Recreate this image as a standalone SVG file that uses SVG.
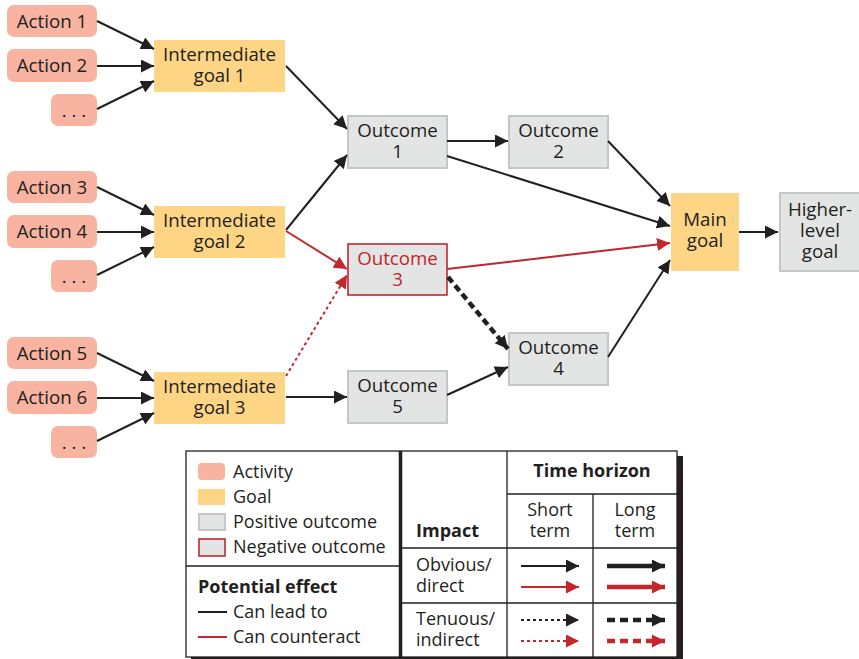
<svg xmlns="http://www.w3.org/2000/svg" width="859" height="659" viewBox="0 0 859 659">
  <style>
    text { font-family: "Open Sans", "Noto Sans", "Liberation Sans", sans-serif; font-size: 18px; fill: #231f20; }
    .n text { font-size: 18.7px; }
    .c { text-anchor: middle; }
    .b { font-weight: bold; }
    .act { fill: #f9b3a1; }
    .goal { fill: #fdd584; }
    .pos { fill: #e3e4e4; stroke: #c5c6c8; stroke-width: 2; }
    .neg { fill: #e3e4e4; stroke: #c1272d; stroke-width: 1.6; }
    .redt { fill: #c1272d; }
    .k { stroke: #231f20; stroke-width: 2; fill: none; }
    .r { stroke: #c1272d; stroke-width: 2; fill: none; }
    .kthick { stroke: #231f20; stroke-width: 4.5; fill: none; }
    .rthick { stroke: #c1272d; stroke-width: 4.5; fill: none; }
    .dot { stroke-dasharray: 3 3; }
    .dash { stroke-dasharray: 8 5; }
    .grid { stroke: #231f20; stroke-width: 1.3; fill: none; }
  </style>
  <defs>
    <marker id="ak" markerUnits="userSpaceOnUse" markerWidth="14" markerHeight="14" refX="13" refY="6.5" orient="auto">
      <path d="M0,0 L13,6.5 L0,13 z" fill="#231f20"/>
    </marker>
    <marker id="ar" markerUnits="userSpaceOnUse" markerWidth="14" markerHeight="14" refX="13" refY="6.5" orient="auto">
      <path d="M0,0 L13,6.5 L0,13 z" fill="#c1272d"/>
    </marker>
  </defs>

  <!-- activities -->
  <g id="action1" class="n"><rect class="act" x="7" y="5" width="90" height="32" rx="7"/><text class="c" x="52" y="28">Action 1</text></g>
  <g id="action2" class="n"><rect class="act" x="7" y="49" width="90" height="33" rx="7"/><text class="c" x="52" y="72">Action 2</text></g>
  <g id="more1" class="n"><rect class="act" x="51" y="94" width="46" height="32" rx="7"/><text class="c" x="74" y="117">. . .</text></g>
  <g id="action3" class="n"><rect class="act" x="7" y="171" width="90" height="32" rx="7"/><text class="c" x="52" y="194">Action 3</text></g>
  <g id="action4" class="n"><rect class="act" x="7" y="215" width="90" height="33" rx="7"/><text class="c" x="52" y="238">Action 4</text></g>
  <g id="more2" class="n"><rect class="act" x="51" y="260" width="46" height="32" rx="7"/><text class="c" x="74" y="283">. . .</text></g>
  <g id="action5" class="n"><rect class="act" x="7" y="337" width="90" height="32" rx="7"/><text class="c" x="52" y="360">Action 5</text></g>
  <g id="action6" class="n"><rect class="act" x="7" y="381" width="90" height="33" rx="7"/><text class="c" x="52" y="404">Action 6</text></g>
  <g id="more3" class="n"><rect class="act" x="51" y="426" width="46" height="32" rx="7"/><text class="c" x="74" y="449">. . .</text></g>

  <!-- intermediate goals -->
  <g id="goal1" class="n"><rect class="goal" x="154" y="40" width="131" height="52"/><text class="c" x="219.5" y="61">Intermediate</text><text class="c" x="219.5" y="82">goal 1</text></g>
  <g id="goal2" class="n"><rect class="goal" x="154" y="206" width="131" height="52"/><text class="c" x="219.5" y="227">Intermediate</text><text class="c" x="219.5" y="248">goal 2</text></g>
  <g id="goal3" class="n"><rect class="goal" x="154" y="372" width="131" height="52"/><text class="c" x="219.5" y="393">Intermediate</text><text class="c" x="219.5" y="414">goal 3</text></g>

  <!-- outcomes -->
  <g id="outcome1" class="n"><rect class="pos" x="348" y="116" width="99" height="52"/><text class="c" x="397.5" y="137">Outcome</text><text class="c" x="397.5" y="158">1</text></g>
  <g id="outcome2" class="n"><rect class="pos" x="509" y="116" width="99" height="52"/><text class="c" x="558.5" y="137">Outcome</text><text class="c" x="558.5" y="158">2</text></g>
  <g id="outcome3" class="n"><rect class="neg" x="348" y="244" width="99" height="51"/><text class="c redt" x="397.5" y="265">Outcome</text><text class="c redt" x="397.5" y="286">3</text></g>
  <g id="outcome4" class="n"><rect class="pos" x="509" y="333" width="99" height="52"/><text class="c" x="558.5" y="354">Outcome</text><text class="c" x="558.5" y="375">4</text></g>
  <g id="outcome5" class="n"><rect class="pos" x="348" y="371" width="99" height="52"/><text class="c" x="397.5" y="392">Outcome</text><text class="c" x="397.5" y="413">5</text></g>

  <!-- goals at the top of the chain -->
  <g id="main-goal" class="n"><rect class="goal" x="671" y="193" width="68" height="78"/><text class="c" x="705" y="226">Main</text><text class="c" x="705" y="247">goal</text></g>
  <g id="higher-goal" class="n"><rect class="pos" x="780" y="193" width="80" height="78"/><text class="c" x="820" y="216">Higher-</text><text class="c" x="820" y="237">level</text><text class="c" x="820" y="258">goal</text></g>

  <!-- connectors -->
  <g id="connectors">
    <line class="k" x1="97" y1="21" x2="154" y2="49" marker-end="url(#ak)"/>
    <line class="k" x1="97" y1="66" x2="154" y2="66" marker-end="url(#ak)"/>
    <line class="k" x1="97" y1="109" x2="154" y2="81" marker-end="url(#ak)"/>
    <line class="k" x1="97" y1="187" x2="154" y2="215" marker-end="url(#ak)"/>
    <line class="k" x1="97" y1="232" x2="154" y2="232" marker-end="url(#ak)"/>
    <line class="k" x1="97" y1="275" x2="154" y2="247" marker-end="url(#ak)"/>
    <line class="k" x1="97" y1="353" x2="154" y2="381" marker-end="url(#ak)"/>
    <line class="k" x1="97" y1="398" x2="154" y2="398" marker-end="url(#ak)"/>
    <line class="k" x1="97" y1="441" x2="154" y2="413" marker-end="url(#ak)"/>

    <line class="k" x1="286" y1="66" x2="347" y2="129" marker-end="url(#ak)"/>
    <line class="k" x1="286" y1="230" x2="347" y2="155" marker-end="url(#ak)"/>
    <line class="r" x1="286" y1="231" x2="347" y2="269" marker-end="url(#ar)"/>
    <line class="r dot" x1="286" y1="376" x2="347" y2="275" marker-end="url(#ar)"/>
    <line class="k" x1="286" y1="397" x2="347" y2="397" marker-end="url(#ak)"/>

    <line class="k" x1="447" y1="141" x2="508" y2="141" marker-end="url(#ak)"/>
    <line class="k" x1="447" y1="156" x2="670" y2="226" marker-end="url(#ak)"/>
    <line class="k" x1="608" y1="141" x2="670" y2="206" marker-end="url(#ak)"/>
    <line class="r" x1="447" y1="269" x2="670" y2="243" marker-end="url(#ar)"/>
    <line class="kthick" stroke-dasharray="7 4" x1="448" y1="277" x2="508" y2="349" marker-end="url(#ak)"/>
    <line class="k" x1="447" y1="395" x2="508" y2="367" marker-end="url(#ak)"/>
    <line class="k" x1="608" y1="357" x2="670" y2="260" marker-end="url(#ak)"/>
    <line class="k" x1="739" y1="232" x2="778" y2="232" marker-end="url(#ak)"/>
  </g>

  <!-- legend -->
  <g id="legend">
    <rect x="191" y="456" width="492" height="206" fill="#231f20"/>
    <rect x="186" y="451" width="491" height="206" fill="#ffffff" stroke="#231f20" stroke-width="1.3"/>
    <line x1="186" y1="566" x2="400" y2="566" class="grid"/>
    <line x1="400.5" y1="451" x2="400.5" y2="657" stroke="#231f20" stroke-width="3.5"/>

    <rect class="act" x="198" y="463" width="27" height="17" rx="4"/>
    <text x="233" y="478">Activity</text>
    <rect class="goal" x="198" y="489" width="27" height="16"/>
    <text x="233" y="503">Goal</text>
    <rect class="pos" x="199" y="514" width="26" height="16"/>
    <text x="233" y="528">Positive outcome</text>
    <rect class="neg" x="199" y="539" width="26" height="17"/>
    <text x="233" y="553">Negative outcome</text>

    <text class="b" x="198" y="593">Potential effect</text>
    <line class="k" x1="198" y1="612" x2="227" y2="612"/>
    <text x="233" y="618">Can lead to</text>
    <line class="r" x1="198" y1="637" x2="227" y2="637"/>
    <text x="233" y="643">Can counteract</text>

    <!-- impact / time horizon table -->
    <line x1="507" y1="494" x2="677" y2="494" class="grid"/>
    <line x1="402" y1="548" x2="677" y2="548" class="grid"/>
    <line x1="402" y1="603" x2="677" y2="603" class="grid"/>
    <line x1="507" y1="451" x2="507" y2="657" class="grid"/>
    <line x1="593" y1="494" x2="593" y2="657" class="grid"/>

    <text class="c b" x="592" y="477">Time horizon</text>
    <text class="c" x="550" y="516">Short</text>
    <text class="c" x="550" y="537">term</text>
    <text class="c" x="635" y="516">Long</text>
    <text class="c" x="635" y="537">term</text>
    <text class="b" x="416" y="537">Impact</text>
    <text x="416" y="571">Obvious/</text>
    <text x="416" y="592">direct</text>
    <text x="416" y="625">Tenuous/</text>
    <text x="416" y="646">indirect</text>

    <line class="k" x1="521" y1="566" x2="579" y2="566" marker-end="url(#ak)"/>
    <line class="r" x1="521" y1="587" x2="579" y2="587" marker-end="url(#ar)"/>
    <line class="kthick" x1="607" y1="566" x2="665" y2="566" marker-end="url(#ak)"/>
    <line class="rthick" x1="607" y1="587" x2="665" y2="587" marker-end="url(#ar)"/>
    <line class="k dot" x1="521" y1="620" x2="579" y2="620" marker-end="url(#ak)"/>
    <line class="r dot" x1="521" y1="641" x2="579" y2="641" marker-end="url(#ar)"/>
    <line class="kthick dash" x1="607" y1="620" x2="665" y2="620" marker-end="url(#ak)"/>
    <line class="rthick dash" x1="607" y1="641" x2="665" y2="641" marker-end="url(#ar)"/>
  </g>
</svg>
